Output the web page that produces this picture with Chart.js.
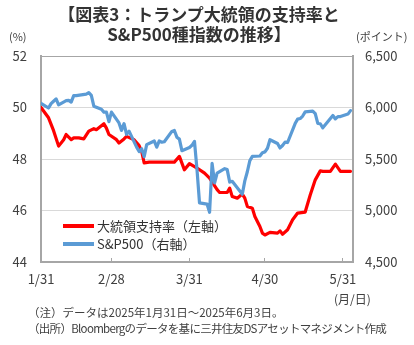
<!DOCTYPE html>
<html lang="ja">
<head>
<meta charset="utf-8">
<script src="https://cdn.jsdelivr.net/npm/chart.js@4/dist/chart.umd.min.js"></script>
<style>
  body { margin: 0; background: #fff; }
  #wrap { position: relative; width: 414px; height: 345px; overflow: hidden;
          font-family: "Noto Sans CJK JP", sans-serif; color: #404040; }
  #wrap canvas { position: absolute; left: 0; top: 0; }
  .txt { position: absolute; white-space: nowrap; }
  #title { left: 0; top: 4px; width: 398px; text-align: center; font-size: 17px;
           font-weight: bold; line-height: 20px; color: #333; }
  .unit { font-size: 11px; top: 28px; line-height: 16px; }
  .note { left: 28px; font-size: 11.5px; line-height: 16px; }
  .leg { left: 63px; font-size: 13px; line-height: 18px; color: #333; }
  .leg i { display: inline-block; width: 31px; height: 4px; vertical-align: middle;
           margin-right: 3px; position: relative; top: -1px; }
</style>
</head>
<body>
<div id="wrap">
  <canvas id="chart" width="414" height="345"></canvas>
  <div id="title" class="txt">【図表3：トランプ大統領の支持率と<br>S&amp;P500種指数の推移】</div>
  <div class="txt unit" style="left:9px">(%)</div>
  <div class="txt unit" style="left:356px">(ポイント)</div>
  <div class="txt leg" style="top:217px"><i style="background:#ff0000"></i>大統領支持率（左軸）</div>
  <div class="txt leg" style="top:235px"><i style="background:#5b9bd5"></i>S&amp;P500（右軸）</div>
  <div class="txt" style="left:334px; top:291px; font-size:12px; line-height:16px">(月/日)</div>
  <div class="txt note" style="top:304px">（注）データは2025年1月31日～2025年6月3日。</div>
  <div class="txt note" style="top:320px; letter-spacing:-0.7px">（出所）Bloombergのデータを基に三井住友DSアセットマネジメント作成</div>
</div>
<script>
// x axis ticks
const tickDates = ['1/31', '2/28', '3/31', '4/30', '5/31'];

// Trump approval rating (%), left axis
const approvalDates = [
  '1/31', '2/3', '2/5', '2/7', '2/9', '2/10', '2/12', '2/13', '2/15', '2/17',
  '2/19', '2/21', '2/22', '2/25', '2/26', '2/27', '3/2', '3/3', '3/5', '3/6',
  '3/9', '3/11', '3/12', '3/13', '3/15', '3/25', '3/27', '3/29', '3/31', '4/3',
  '4/6', '4/8', '4/11', '4/12', '4/15', '4/16', '4/17', '4/19', '4/21', '4/22',
  '4/23', '4/25', '4/26', '4/28', '4/29', '4/30', '5/2', '5/5', '5/6', '5/7',
  '5/9', '5/11', '5/13', '5/16', '5/18', '5/20', '5/22', '5/23', '5/26', '5/28',
  '5/30', '6/3'
];
const approvalValues = [
  50.0, 49.6, 49.1, 48.5, 48.75, 48.95, 48.75, 48.82, 48.82, 48.78,
  49.08, 49.18, 49.14, 49.37, 49.2, 48.95, 48.75, 48.62, 48.78, 48.88,
  48.75, 48.52, 48.3, 47.85, 47.88, 47.88, 48.1, 47.58, 47.82, 47.65,
  47.45, 47.26, 46.81, 46.7, 46.7, 46.87, 46.54, 46.48, 46.64, 46.48,
  46.16, 46.09, 45.77, 45.38, 45.12, 45.05, 45.15, 45.12, 45.21, 45.08,
  45.25, 45.64, 45.9, 45.94, 46.6, 47.19, 47.54, 47.52, 47.52, 47.8,
  47.52, 47.52
];

// S&P500 (points), right axis
const spxDates = [
  '1/31', '2/3', '2/4', '2/5', '2/6', '2/7', '2/10', '2/11', '2/12', '2/13',
  '2/14', '2/18', '2/19', '2/20', '2/21', '2/24', '2/25', '2/26', '2/27', '2/28',
  '3/3', '3/4', '3/5', '3/6', '3/7', '3/10', '3/11', '3/12', '3/13', '3/14',
  '3/17', '3/18', '3/19', '3/20', '3/21', '3/24', '3/25', '3/26', '3/27', '3/28',
  '3/31', '4/1', '4/2', '4/3', '4/4', '4/7', '4/8', '4/9', '4/10', '4/11',
  '4/14', '4/15', '4/16', '4/17', '4/21', '4/22', '4/23', '4/24', '4/25', '4/28',
  '4/29', '4/30', '5/1', '5/2', '5/5', '5/6', '5/7', '5/8', '5/9', '5/12',
  '5/13', '5/14', '5/15', '5/16', '5/19', '5/20', '5/21', '5/22', '5/23', '5/27',
  '5/28', '5/29', '5/30', '6/2', '6/3'
];
const spxValues = [
  6041, 5995, 6038, 6061, 6084, 6026, 6066, 6069, 6052, 6115,
  6115, 6130, 6144, 6118, 6013, 5983, 5955, 5956, 5862, 5955,
  5850, 5778, 5843, 5739, 5770, 5615, 5572, 5599, 5522, 5639,
  5675, 5615, 5675, 5663, 5668, 5768, 5777, 5712, 5693, 5581,
  5612, 5633, 5671, 5397, 5074, 5062, 4983, 5457, 5268, 5363,
  5406, 5397, 5276, 5283, 5158, 5288, 5376, 5485, 5525, 5529,
  5561, 5569, 5604, 5687, 5650, 5607, 5631, 5664, 5660, 5844,
  5887, 5893, 5917, 5958, 5964, 5940, 5845, 5842, 5803, 5922,
  5889, 5912, 5912, 5936, 5970
];

// day count from 1/31/2025
function dayOf(md) {
    const [m, d] = md.split('/').map(Number);
    return (Date.UTC(2025, m - 1, d) - Date.UTC(2025, 0, 31)) / 86400000;
}

function toPoints(dates, values) {
    return dates.map((md, i) => ({ x: dayOf(md), y: values[i] }));
}

Chart.defaults.font.family = '"Noto Sans CJK JP", sans-serif';
Chart.defaults.color = '#404040';

new Chart(document.getElementById('chart'), {
    type: 'line',
    data: {
        datasets: [{
            label: '大統領支持率（左軸）',
            data: toPoints(approvalDates, approvalValues),
            yAxisID: 'y',
            borderColor: '#ff0000',
            borderWidth: 3.2,
            pointRadius: 0,
            tension: 0,
            borderJoinStyle: 'round',
            borderCapStyle: 'round',
            order: 2
        }, {
            label: 'S&P500（右軸）',
            data: toPoints(spxDates, spxValues),
            yAxisID: 'y2',
            borderColor: '#5b9bd5',
            borderWidth: 3.2,
            pointRadius: 0,
            tension: 0,
            borderJoinStyle: 'round',
            borderCapStyle: 'round',
            order: 1
        }]
    },
    options: {
        responsive: false,
        animation: false,
        layout: { padding: { top: 56, bottom: 58, left: 0, right: 0 } },
        plugins: { legend: { display: false }, tooltip: { enabled: false } },
        scales: {
            x: {
                type: 'linear',
                min: 0,
                max: 124,
                afterBuildTicks: s => { s.ticks = tickDates.map(t => ({ value: dayOf(t) })); },
                afterFit: s => { s.height = 25; },
                ticks: {
                    font: { size: 13 },
                    padding: 13,
                    maxRotation: 0,
                    autoSkip: false,
                    callback: (v) => tickDates.find(t => dayOf(t) === v) || ''
                },
                grid: { drawOnChartArea: false, tickLength: -4, color: '#a6a6a6' },
                border: { color: '#a6a6a6', width: 2 }
            },
            y: {
                position: 'left',
                min: 44,
                max: 52,
                afterBuildTicks: s => { s.ticks = [44, 46, 48, 50, 52].map(v => ({ value: v })); },
                afterFit: s => { s.width = 41; },
                ticks: { font: { size: 13 }, padding: 14 },
                grid: {
                    drawTicks: false,
                    color: c => c.tick && c.tick.value === 52 ? '#a6a6a6' : '#d9d9d9'
                },
                border: { color: '#a6a6a6', width: 2 }
            },
            y2: {
                position: 'right',
                min: 4500,
                max: 6500,
                afterBuildTicks: s => { s.ticks = [4500, 5000, 5500, 6000, 6500].map(v => ({ value: v })); },
                afterFit: s => { s.width = 61; },
                ticks: { font: { size: 13 }, padding: 12 },
                grid: { display: false, drawTicks: false },
                border: { color: '#a6a6a6', width: 2 }
            }
        }
    }
});
</script>
</body>
</html>
